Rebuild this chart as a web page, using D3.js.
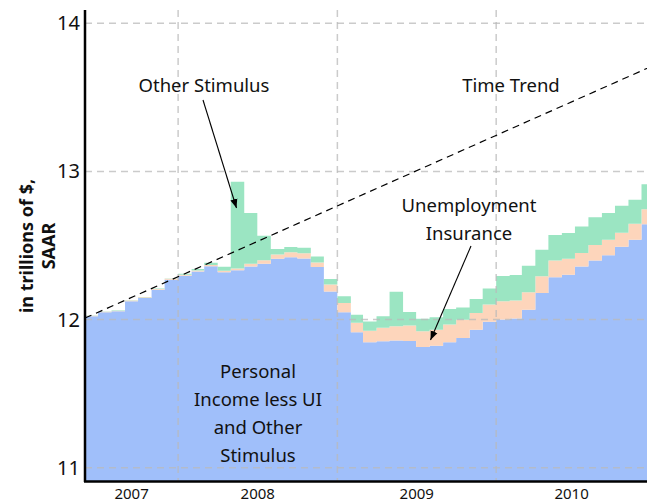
<!DOCTYPE html>
<html>
<head>
<meta charset="utf-8">
<script src="https://cdn.jsdelivr.net/npm/d3@7"></script>
<style>
  body { margin: 0; background: #fff; }
  svg { display: block; font-family: "Noto Sans", sans-serif; }
</style>
</head>
<body>
<script>
// monthly values, Jun 2007 .. Dec 2010 (trillions of $, SAAR)
var firstMonth = new Date(2007, 5, 1);
var lastMonthEnd = new Date(2011, 0, 1);

var baseIncome = [
  12.022, 12.049, 12.056, 12.123, 12.146, 12.202, 12.269,
  12.296, 12.325, 12.360, 12.320, 12.333, 12.359, 12.377, 12.411, 12.420, 12.413, 12.355, 12.189,
  12.049, 11.914, 11.847, 11.854, 11.858, 11.856, 11.814, 11.824, 11.847, 11.876, 11.932, 11.986,
  12.000, 12.007, 12.067, 12.180, 12.285, 12.303, 12.359, 12.398, 12.435, 12.492, 12.539, 12.644
];
var unemploymentIns = [
  0.004, 0.004, 0.004, 0.005, 0.005, 0.005, 0.006,
  0.006, 0.007, 0.008, 0.009, 0.012, 0.018, 0.024, 0.029, 0.034, 0.034, 0.031, 0.047,
  0.062, 0.065, 0.077, 0.090, 0.096, 0.104, 0.107, 0.108, 0.119, 0.123, 0.113, 0.115,
  0.123, 0.121, 0.117, 0.112, 0.113, 0.108, 0.090, 0.106, 0.104, 0.094, 0.108, 0.101
];
var otherStimulus = [
  0.002, 0.002, 0.002, 0.002, 0.002, 0.002, 0.002,
  0.007, 0.010, 0.015, 0.027, 0.585, 0.342, 0.164, 0.036, 0.036, 0.038, 0.040, 0.037,
  0.046, 0.054, 0.063, 0.078, 0.234, 0.091, 0.084, 0.083, 0.106, 0.083, 0.094, 0.108,
  0.171, 0.173, 0.180, 0.180, 0.173, 0.173, 0.179, 0.186, 0.180, 0.182, 0.162, 0.169
];
var trendDates = [new Date(2007, 5, 1), new Date(2011, 0, 1)];
var trendValues = [12.01, 13.72];
var yTicks = [11, 12, 13, 14];
var yearLabels = [2007, 2008, 2009, 2010];

var seriesKeys = ["base", "ui", "other"];
var seriesColors = { base: "#a0bffa", ui: "#fdd5bb", other: "#9be5c2" };

var svgWidth = 647;
var svgHeight = 504;

var svg = d3.select("body")
  .append("svg")
  .attr("width", svgWidth)
  .attr("height", svgHeight);

var xScale = d3.scaleTime()
  .domain([firstMonth, lastMonthEnd])
  .range([85, 655]);

var yScale = d3.scaleLinear()
  .domain([10.91, 14.09])
  .range([481, 10]);

var months = d3.timeMonth.range(firstMonth, lastMonthEnd);
var rows = months.map(function(m, i) {
  return { date: m, base: baseIncome[i], ui: unemploymentIns[i], other: otherStimulus[i] };
});
// repeat the last month at the closing date so the final step has width
var last = rows[rows.length - 1];
rows.push({ date: lastMonthEnd, base: last.base, ui: last.ui, other: last.other });

var stacked = d3.stack().keys(seriesKeys)(rows);

var area = d3.area()
  .curve(d3.curveStepAfter)
  .x(d => xScale(d.data.date))
  .y0(d => yScale(Math.max(d[0], 10.91)))
  .y1(d => yScale(d[1]));

var plot = svg.append("g");

plot.selectAll(".layer")
  .data(stacked)
  .enter()
  .append("path")
  .attr("class", "layer")
  .attr("d", d => area(d))
  .attr("fill", d => seriesColors[d.key]);

// the base layer starts at the bottom of the plot
plot.select(".layer")
  .attr("d", area.y0(yScale(10.91))(stacked[0]));

// grid on top
var grid = svg.append("g")
  .attr("stroke", "#b9b9b9")
  .attr("stroke-opacity", 0.75)
  .attr("stroke-width", 1.5)
  .attr("stroke-dasharray", "7,5");

grid.selectAll(".hgrid")
  .data(yTicks)
  .enter()
  .append("line")
  .attr("x1", xScale.range()[0])
  .attr("x2", svgWidth)
  .attr("y1", d => yScale(d))
  .attr("y2", d => yScale(d));

var yearStarts = [new Date(2008, 0, 1), new Date(2009, 0, 1), new Date(2010, 0, 1)];
grid.selectAll(".vgrid")
  .data(yearStarts)
  .enter()
  .append("line")
  .attr("x1", d => xScale(d))
  .attr("x2", d => xScale(d))
  .attr("y1", 10)
  .attr("y2", 481);

// time trend
var trendLine = d3.line()
  .x((d, i) => xScale(trendDates[i]))
  .y(d => yScale(d));

svg.append("path")
  .attr("d", trendLine(trendValues))
  .attr("fill", "none")
  .attr("stroke", "#000")
  .attr("stroke-width", 1.2)
  .attr("stroke-dasharray", "7,5");

// axes lines
svg.append("line")
  .attr("x1", 85).attr("x2", 85)
  .attr("y1", 10).attr("y2", 482)
  .attr("stroke", "#000").attr("stroke-width", 2.5);
svg.append("line")
  .attr("x1", 84).attr("x2", svgWidth)
  .attr("y1", 481.5).attr("y2", 481.5)
  .attr("stroke", "#000").attr("stroke-width", 2.5);

svg.selectAll(".ytick")
  .data(yTicks)
  .enter()
  .append("text")
  .attr("x", 80)
  .attr("y", d => yScale(d))
  .attr("dy", "0.35em")
  .style("text-anchor", "end")
  .style("font-size", "20px")
  .attr("fill", "#111")
  .text(d => d);

svg.selectAll(".xlabel")
  .data(yearLabels)
  .enter()
  .append("text")
  .attr("x", function(d) {
    var a = Math.max(xScale(new Date(d, 0, 1)), xScale.range()[0]);
    var b = Math.min(xScale(new Date(d + 1, 0, 1)), svgWidth);
    return (a + b) / 2;
  })
  .attr("y", 499)
  .style("text-anchor", "middle")
  .style("font-size", "15px")
  .attr("fill", "#111")
  .text(d => d);

var ytitle = svg.append("text")
  .attr("transform", "translate(33, 246) rotate(-90)")
  .style("text-anchor", "middle")
  .style("font-size", "18px")
  .style("font-weight", "bold")
  .attr("fill", "#111");
ytitle.append("tspan").attr("x", 0).attr("y", 0).text("in trillions of $,");
ytitle.append("tspan").attr("x", 0).attr("y", 22).text("SAAR");

// annotations
svg.append("defs").append("marker")
  .attr("id", "arrow")
  .attr("viewBox", "0 -5 10 10")
  .attr("refX", 10)
  .attr("refY", 0)
  .attr("markerWidth", 9)
  .attr("markerHeight", 9)
  .attr("markerUnits", "userSpaceOnUse")
  .attr("orient", "auto")
  .append("path")
  .attr("d", "M0,-4L10,0L0,4Z")
  .attr("fill", "#000");

function label(lines, x, y, step) {
  var t = svg.append("text")
    .style("text-anchor", "middle")
    .style("font-size", "18.5px")
    .attr("fill", "#111");
  lines.forEach(function(s, i) {
    t.append("tspan").attr("x", x).attr("y", y + i * step).text(s);
  });
}

label(["Other Stimulus"], 204, 92, 0);
label(["Time Trend"], 511, 92, 0);
label(["Unemployment", "Insurance"], 469, 212, 28);
label(["Personal", "Income less UI", "and Other", "Stimulus"], 258, 378, 28);

svg.append("line")
  .attr("x1", 203).attr("y1", 100)
  .attr("x2", 236.5).attr("y2", 208)
  .attr("stroke", "#000").attr("stroke-width", 1.1)
  .attr("marker-end", "url(#arrow)");
svg.append("line")
  .attr("x1", 471).attr("y1", 246)
  .attr("x2", 430.5).attr("y2", 340)
  .attr("stroke", "#000").attr("stroke-width", 1.1)
  .attr("marker-end", "url(#arrow)");
</script>
</body>
</html>
